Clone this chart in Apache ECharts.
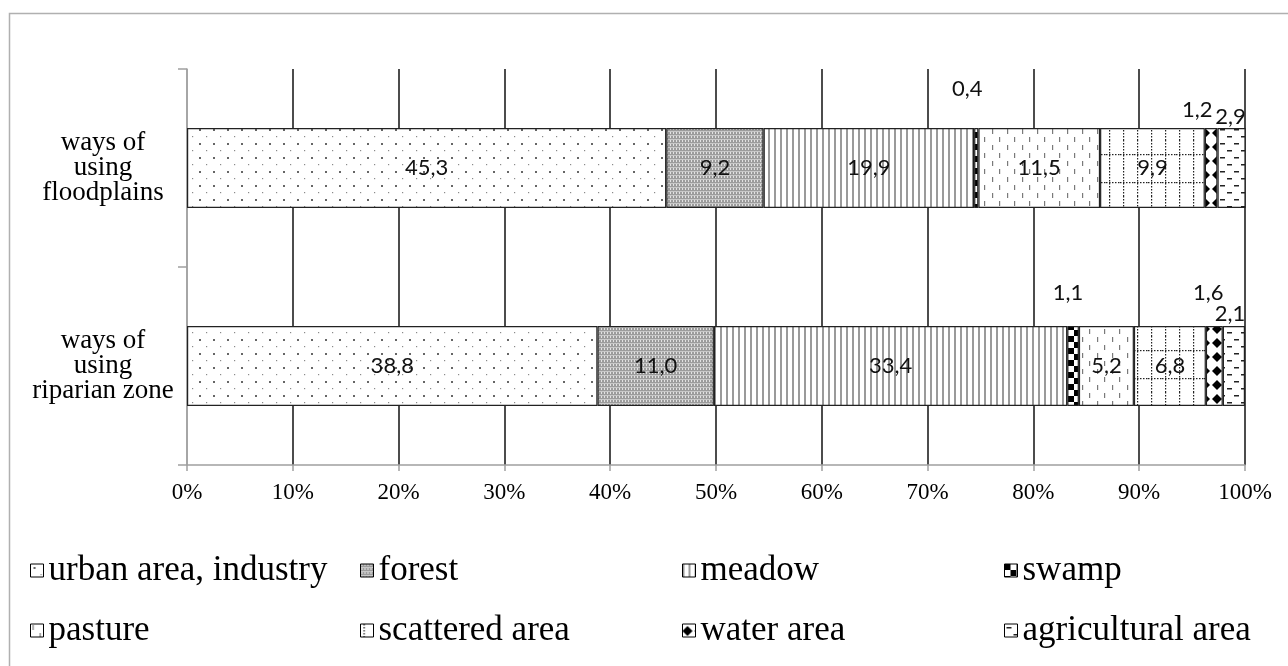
<!DOCTYPE html>
<html>
<head>
<meta charset="utf-8">
<script src="https://cdn.jsdelivr.net/npm/echarts@6/dist/echarts.min.js"></script>
<style>
html,body{margin:0;padding:0;background:#fff;}
#chart{width:1288px;height:666px;}
</style>
</head>
<body>
<div id="chart"></div>
<script>
// ---- data ----
const categories = ['ways of\nusing\nfloodplains', 'ways of\nusing\nriparian zone'];
const seriesNames = ['urban area, industry', 'forest', 'meadow', 'swamp', 'pasture', 'scattered area', 'water area', 'agricultural area'];
const urban = [45.3, 38.8];
const forest = [9.2, 11.0];
const meadow = [19.9, 33.4];
const swamp = [0.4, 1.1];
const pasture = [11.5, 5.2];
const scattered = [9.9, 6.8];
const water = [1.2, 1.6];
const agricultural = [2.9, 2.1];
const xMin = 0, xMax = 100, xInterval = 10;

const seriesValues = [urban, forest, meadow, swamp, pasture, scattered, water, agricultural];

// ---- styles ----
function makePattern(w, h, draw) {
  const c = document.createElement('canvas');
  c.width = w; c.height = h;
  const ctx = c.getContext('2d');
  ctx.fillStyle = '#fff';
  ctx.fillRect(0, 0, w, h);
  draw(ctx);
  return { image: c, repeat: 'repeat' };
}
const patterns = [
  makePattern(14, 14, ctx => { ctx.fillStyle = '#666'; ctx.fillRect(3, 3, 2, 2); ctx.fillStyle = '#8a8a8a'; ctx.fillRect(10, 10, 1.2, 1.2); }),
  makePattern(3, 4, ctx => { ctx.fillStyle = '#9c9c9c'; ctx.fillRect(0, 0, 3, 4); ctx.fillStyle = '#e2e2e2'; ctx.fillRect(1, 0, 1, 2); ctx.fillStyle = '#c8c8c8'; ctx.fillRect(0, 3, 3, 1); }),
  makePattern(6, 2, ctx => { ctx.fillStyle = '#9a9a9a'; ctx.fillRect(0, 0, 2, 2); }),
  makePattern(12, 12, ctx => { ctx.fillStyle = '#000'; ctx.fillRect(0, 0, 6, 6); ctx.fillRect(6, 6, 6, 6); }),
  makePattern(15, 16, ctx => { ctx.fillStyle = '#7a7a7a'; ctx.fillRect(2, 1, 1.2, 5); ctx.fillRect(9, 9, 1.2, 5); }),
  makePattern(14, 28, ctx => { ctx.fillStyle = '#222'; for (let y = 0; y < 28; y += 3) ctx.fillRect(3, y, 1.2, 1.5); for (let x = 0; x < 14; x += 3) ctx.fillRect(x, 14, 1.5, 1.2); }),
  makePattern(12, 14, ctx => { ctx.fillStyle = '#000'; ctx.beginPath(); ctx.moveTo(5, 2); ctx.lineTo(10, 7); ctx.lineTo(5, 12); ctx.lineTo(0, 7); ctx.closePath(); ctx.fill(); }),
  makePattern(14, 14, ctx => { ctx.fillStyle = '#222'; ctx.fillRect(2, 3, 5, 1.5); ctx.fillRect(9, 10, 5, 1.5); })
];

// outside label placement (series index -> per-category offset)
const outsideLabels = {
  3: [[-9, -28], [-5, -22]],
  6: [[-14, -7], [-6, -22]],
  7: [[-1, 0], [-4, -1]]
};

const fmt = v => v.toFixed(1).replace('.', ',');

const series = seriesNames.map((name, si) => ({
  name,
  type: 'bar',
  stack: 'total',
  barWidth: 80,
  clip: true,
  itemStyle: { color: patterns[si], borderColor: '#222', borderWidth: 1.2 },
  emphasis: { disabled: true },
  label: {
    show: true,
    position: 'inside',
    fontFamily: 'Lato',
    fontSize: 22,
    color: '#111',
    formatter: p => fmt(p.value)
  },
  data: seriesValues[si].map((v, ci) => {
    const o = outsideLabels[si];
    if (o) {
      return { value: v, label: { position: 'top', distance: 0, offset: o[ci] } };
    }
    return v;
  })
}));

const legendPos = [
  [30, 553], [360, 553], [682, 553], [1004, 553],
  [30, 613], [360, 613], [682, 613], [1004, 613]
];
const legends = seriesNames.map((name, i) => ({
  data: [name],
  left: legendPos[i][0],
  top: legendPos[i][1],
  icon: 'rect',
  itemWidth: 13,
  itemHeight: 13,
  selectedMode: false,
  padding: 0,
  itemStyle: { borderColor: '#000', borderWidth: 1 },
  textStyle: { fontFamily: 'Liberation Serif', fontSize: 35, color: '#000', padding: [0, 0, 0, 0] }
}));

const splitColors = ['#a0a0a0'];
for (let i = 0; i < 10; i++) splitColors.push('#111');

const chart = echarts.init(document.getElementById('chart'), null, { renderer: 'canvas' });
chart.setOption({
  animation: false,
  backgroundColor: '#fff',
  graphic: [{
    type: 'rect',
    shape: { x: 9.5, y: 13.5, width: 1300, height: 700 },
    style: { fill: 'none', stroke: '#b0b0b0', lineWidth: 1.5 },
    silent: true
  }],
  legend: legends,
  grid: { left: 187, right: 43, top: 69, bottom: 201, containLabel: false },
  xAxis: {
    type: 'value',
    min: xMin, max: xMax, interval: xInterval,
    axisLine: { show: true, lineStyle: { color: '#a0a0a0', width: 1.5 } },
    axisTick: { show: true, length: 6, lineStyle: { color: '#a0a0a0', width: 1.5 } },
    axisLabel: { formatter: '{value}%', fontFamily: 'Liberation Serif', fontSize: 23, color: '#000', margin: 16 },
    splitLine: { show: true, lineStyle: { color: splitColors, width: 1.5 } }
  },
  yAxis: {
    type: 'category',
    inverse: true,
    data: categories,
    axisLine: { show: true, lineStyle: { color: '#a0a0a0', width: 1.5 } },
    axisTick: { show: true, length: 9, lineStyle: { color: '#a0a0a0', width: 1.5 } },
    axisLabel: { fontFamily: 'Liberation Serif', fontSize: 27, lineHeight: 25, color: '#000', align: 'center', margin: 84, padding: [0, 0, 16, 0] }
  },
  series
});
</script>
</body>
</html>
